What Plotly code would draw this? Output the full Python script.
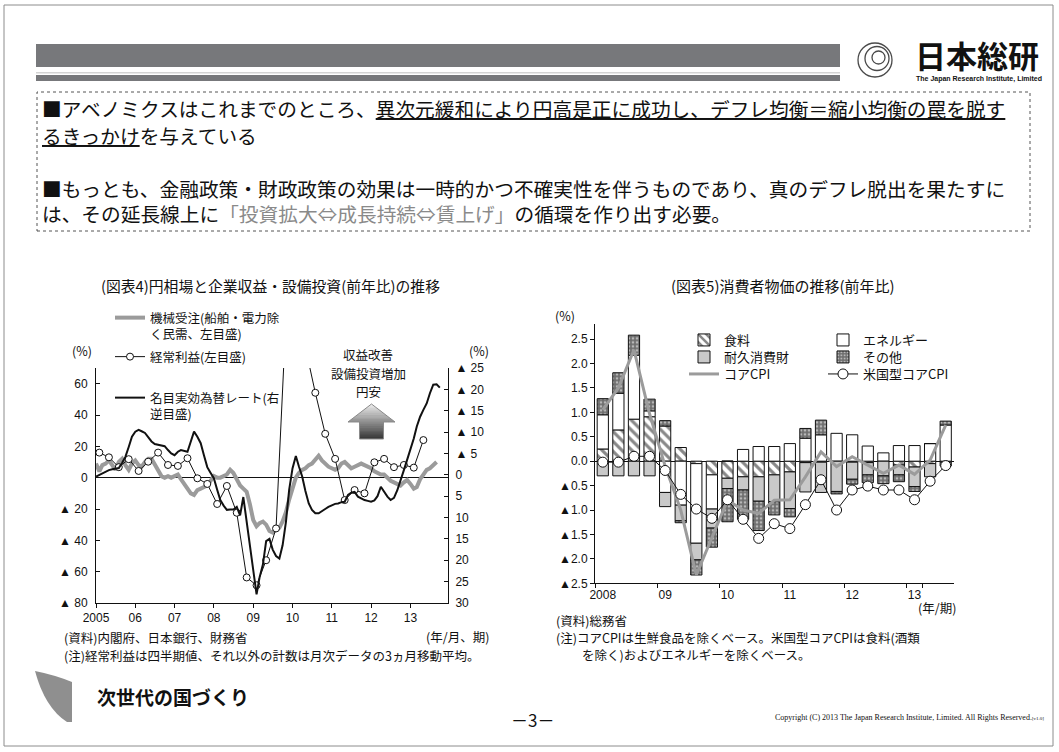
import pandas as pd
import plotly.graph_objects as go

W, H = 1059, 752


def fx(x):
    return x / W


def fy(y):
    return 1 - y / H


JP = "Noto Sans CJK JP"
SANS = "Liberation Sans, Noto Sans CJK JP"
SERIF = "Liberation Serif"

# ---------------- Figure 4: yen, corporate profits, capex (y/y, %) ----------------
# Machinery orders (private, excl. ships & electric power), 3-month moving average, from 2005-01
machine_orders = [
    9, 4, 8, 9, 11, 8, 5, 10, 12, 8,
    5, 9, 11, 8, 7, 10, 12, 12, 8, 4,
    1, 0, 1, 0, 1, 2, -1, -4, -7, -10,
    -11, -8, -7, -6, -5, -2, 1, 0, 0, 1,
    2, 5, 3, -1, -5, -7, -9, -17, -27, -31,
    -29, -28, -30, -34, -35, -33, -32, -28, -22, -14,
    -6, 0, 3, 5, 6, 8, 9, 12, 14, 11,
    9, 7, 6, 5, 6, 9, 10, 8, 6, 7,
    8, 9, 8, 7, 6, 4, 3, 2, 2, 0,
    -2, -3, -4, -5, -3, -1.5, -4, -7, -6, -1,
    2, 5, 6, 8, 10,
]
# Nominal effective exchange rate, 3-month moving average, from 2005-01 (right axis, inverted)
neer = [
    0.4, 0.0, -0.4, -0.7, -1.1, -1.3, -1.5, -1.6, -2.8, -4.2,
    -6.5, -8.9, -10.1, -10.5, -10.2, -9.8, -8.8, -7.8, -7.2, -7.0,
    -6.8, -6.7, -5.8, -5.0, -4.6, -5.4, -5.8, -5.6, -5.4, -7.8,
    -10.1, -8.9, -7.4, -4.6, -1.8, -0.5, 0.8, 3.5, 5.9, 7.2,
    8.2, 8.1, 8.1, 7.5, 9.5, 5.2, 11.0, 17.0, 23.0, 28.0,
    24.0, 21.0, 15.5, 15.0, 17.5, 19.0, 19.6, 16.5, 11.0, 3.5,
    -1.5, -4.4, -2.0, 0.4, 3.8, 6.7, 8.2, 9.0, 9.0, 8.6,
    8.0, 7.5, 7.1, 6.8, 6.7, 6.4, 6.3, 4.7, 4.2, 4.0,
    5.1, 5.5, 5.9, 6.1, 6.3, 6.0, 5.0, 2.8, 4.0, 5.1,
    5.9, 5.4, 3.6, 1.0, -1.1, -3.5, -5.8, -8.5, -11.3, -13.6,
    -15.2, -16.7, -19.1, -21.1, -21.2, -20.4,
]
# Recurring profits, quarterly, from 2005Q1
recurring_profits = [
    16, 13, 6.7, 11.8, 4.3, 10.2, 16, 8.1, 7.5, 12.4,
    -0.4, -4, -16.8, -5.3, -22.4, -63.7, -68.7, -52.7, -32.4, 101.5,
    164.4, 83.2, 54.2, 28, 12, -14.3, -7.9, -10, 9.8, 12,
    6.7, 8.1, 6.4, 24,
]

fig4_years = [f"{y}-01-01" for y in range(2005, 2014)]
fig4_year_labels = ["2005", "06", "07", "08", "09", "10", "11", "12", "13"]
fig4_left_ticks = [-80, -60, -40, -20, 0, 20, 40, 60]
fig4_left_labels = ["▲ 80", "▲ 60", "▲ 40", "▲ 20", "0", "20", "40", "60"]
fig4_right_ticks = [-25, -20, -15, -10, -5, 0, 5, 10, 15, 20, 25, 30]
fig4_right_labels = ["▲ 25", "▲ 20", "▲ 15", "▲ 10", "▲ 5", "0", "5", "10", "15", "20", "25", "30"]

months_mo = pd.date_range("2005-01-01", periods=len(machine_orders), freq="MS")
months_fx = pd.date_range("2005-01-01", periods=len(neer), freq="MS")
quarters_rp = pd.date_range("2005-02-01", periods=len(recurring_profits), freq="3MS")

# ---------------- Figure 5: consumer prices (y/y, %) ----------------
cpi_quarters = [f"{y}Q{q}" for y in range(2008, 2014) for q in range(1, 5)][:23]
food = [0.25, 0.64, 0.86, 0.91, 0.72, 0.28, -0.05, -0.28, -0.35, -0.32, -0.32, -0.28,
        -0.22, -0.03, -0.02, 0.0, -0.02, -0.03, 0.0, -0.08, -0.12, -0.05, -0.02]
energy = [0.70, 0.75, 1.31, 0.12, -0.64, -0.90, -1.63, -0.70, 0.0, 0.24, 0.30, 0.30,
          0.36, 0.47, 0.54, 0.57, 0.54, 0.31, 0.17, 0.32, 0.32, 0.36, 0.74]
durables = [-0.30, -0.30, -0.30, -0.30, -0.29, -0.32, -0.34, -0.39, -0.21, -0.27, -0.50, -0.55,
            -0.75, -0.60, -0.62, -0.62, -0.35, -0.25, -0.30, -0.20, -0.40, -0.27, -0.08]
others = [0.33, 0.42, 0.41, 0.24, 0.11, -0.04, -0.31, -0.39, -0.68, -0.60, -0.60, -0.27,
          -0.17, 0.20, 0.30, -0.05, -0.10, -0.16, -0.16, -0.14, -0.10, 0.0, 0.08]
core_cpi = [1.05, 1.5, 2.28, 0.97, -0.1, -1.0, -2.33, -1.57, -0.8, -1.0, -1.07, -0.8,
            -0.79, -0.32, 0.19, -0.11, 0.09, -0.08, -0.25, -0.08, -0.27, 0.02, 0.74]
us_core_cpi = [-0.02, -0.02, 0.1, 0.1, -0.19, -0.68, -0.98, -1.17, -0.79, -1.19, -1.58, -1.28,
               -1.38, -0.89, -0.38, -1.0, -0.59, -0.51, -0.59, -0.59, -0.79, -0.41, -0.09]

fig5_year_ticks = ["2008Q1", "2009Q1", "2010Q1", "2011Q1", "2012Q1", "2013Q1"]
fig5_year_labels = ["2008", "09", "10", "11", "12", "13"]
fig5_y_ticks = [-2.5, -2.0, -1.5, -1.0, -0.5, 0.0, 0.5, 1.0, 1.5, 2.0, 2.5]
fig5_y_labels = ["▲2.5", "▲2.0", "▲1.5", "▲1.0", "▲0.5", "0.0", "0.5", "1.0", "1.5", "2.0", "2.5"]

fig = go.Figure()

# ---- Figure 4 traces ----
fig.add_trace(go.Scatter(
    x=months_mo, y=machine_orders, mode="lines", name="機械受注(船舶・電力除<br>く民需、左目盛)",
    line=dict(color="#9b9b9b", width=4), xaxis="x", yaxis="y", legend="legend"))
fig.add_trace(go.Scatter(
    x=months_fx, y=neer, mode="lines", name="名目実効為替レート(右<br>逆目盛)",
    line=dict(color="#111111", width=2), xaxis="x", yaxis="y2", legend="legend3"))
fig.add_trace(go.Scatter(
    x=quarters_rp, y=recurring_profits, mode="lines+markers", name="経常利益(左目盛)",
    line=dict(color="#111111", width=1),
    marker=dict(symbol="circle", size=7, color="white", line=dict(color="#111111", width=1)),
    xaxis="x", yaxis="y", legend="legend2"))

# ---- Figure 5 traces ----
bar_line = dict(color="#111111", width=1)
fig.add_trace(go.Bar(
    x=cpi_quarters, y=food, name="食料", width=0.72, xaxis="x2", yaxis="y3", legend="legend4",
    marker=dict(color="white", line=bar_line,
                pattern=dict(shape="\\", fgcolor="#111111", bgcolor="white", size=7, solidity=0.45))))
fig.add_trace(go.Bar(
    x=cpi_quarters, y=energy, name="エネルギー", width=0.72, xaxis="x2", yaxis="y3", legend="legend5",
    marker=dict(color="white", line=bar_line)))
fig.add_trace(go.Bar(
    x=cpi_quarters, y=durables, name="耐久消費財", width=0.72, xaxis="x2", yaxis="y3", legend="legend6",
    marker=dict(color="#c9c9c9", line=bar_line)))
fig.add_trace(go.Bar(
    x=cpi_quarters, y=others, name="その他", width=0.72, xaxis="x2", yaxis="y3", legend="legend7",
    marker=dict(color="#6f6f6f", line=bar_line,
                pattern=dict(shape=".", fgcolor="white", bgcolor="#6f6f6f", size=4, solidity=0.35))))
fig.add_trace(go.Scatter(
    x=cpi_quarters, y=core_cpi, mode="lines", name="コアCPI",
    line=dict(color="#9b9b9b", width=3), xaxis="x2", yaxis="y3", legend="legend8"))
fig.add_trace(go.Scatter(
    x=cpi_quarters, y=us_core_cpi, mode="lines+markers", name="米国型コアCPI",
    line=dict(color="#111111", width=1),
    marker=dict(symbol="circle", size=10, color="white", line=dict(color="#111111", width=1)),
    xaxis="x2", yaxis="y3", legend="legend9"))

tick_font = dict(family=SANS, size=12, color="#111111")
axis_common = dict(showgrid=False, showline=True, linecolor="#111111", linewidth=1,
                   tickcolor="#111111", tickwidth=1, ticklen=4, tickfont=tick_font,
                   automargin=False, fixedrange=True)

# ---------------- decorative page shapes ----------------
shapes = []


def rect(x0, y0, x1, y1, fill=None, line_color=None, width=0, dash=None):
    s = dict(type="rect", xref="paper", yref="paper",
             x0=fx(x0), x1=fx(x1), y0=fy(y1), y1=fy(y0), layer="above",
             line=dict(width=width, color=line_color or "rgba(0,0,0,0)"))
    if dash:
        s["line"]["dash"] = dash
    s["fillcolor"] = fill or "rgba(0,0,0,0)"
    return s


def path(points, fill, line_color="rgba(0,0,0,0)", width=0, closed=True):
    d = "M " + " L ".join(f"{fx(x):.5f},{fy(y):.5f}" for x, y in points)
    if closed:
        d += " Z"
    return dict(type="path", xref="paper", yref="paper", path=d, fillcolor=fill,
                line=dict(color=line_color, width=width), layer="above")


# page frame
shapes.append(rect(4, 5, 1053, 746, line_color="#8c8c8c", width=1))
# header bars
shapes.append(rect(36, 44, 840, 67, fill="#77787b"))
shapes.append(rect(36, 72, 840, 73.5, fill="#d4d4d4"))
shapes.append(rect(36, 75, 840, 81, fill="#77787b"))
# message box
shapes.append(rect(37, 92, 1030, 231, line_color="#555555", width=1, dash="dot"))
# logo mark
for cx, cy, r in [(875, 60, 17), (877, 58.5, 12), (878.5, 57.5, 6.5)]:
    shapes.append(dict(type="circle", xref="paper", yref="paper",
                       x0=fx(cx - r), x1=fx(cx + r), y0=fy(cy + r), y1=fy(cy - r),
                       line=dict(color="#4a4a4a", width=1.3), layer="above"))

# gradient up-arrow
apex_x, apex_y, base_y, head_l, head_r = 371.5, 404, 422, 348, 395
shaft_l, shaft_r, shaft_b = 359.5, 383.5, 439
n_bands = 16
band_h = (shaft_b - apex_y) / n_bands


def half_width(y):
    if y <= base_y:
        return (y - apex_y) / (base_y - apex_y) * (head_r - head_l) / 2
    return (shaft_r - shaft_l) / 2


for i in range(n_bands):
    ya = apex_y + i * band_h
    yb = min(ya + band_h + 0.6, shaft_b)
    t = i / (n_bands - 1)
    g = int(232 - t * (232 - 58))
    col = f"rgb({g},{g},{g})"
    if yb <= base_y:
        pts = [(apex_x - half_width(ya), ya), (apex_x + half_width(ya), ya),
               (apex_x + half_width(yb), yb), (apex_x - half_width(yb), yb)]
    elif ya >= base_y:
        pts = [(shaft_l, ya), (shaft_r, ya), (shaft_r, yb), (shaft_l, yb)]
    else:
        pts = [(apex_x - half_width(ya), ya), (apex_x + half_width(ya), ya),
               (head_r, base_y), (shaft_r, base_y), (shaft_r, yb), (shaft_l, yb),
               (shaft_l, base_y), (head_l, base_y)]
    shapes.append(path(pts, col))
shapes.append(path([(apex_x, apex_y), (head_r, base_y), (shaft_r, base_y), (shaft_r, shaft_b),
                    (shaft_l, shaft_b), (shaft_l, base_y), (head_l, base_y)],
                   "rgba(0,0,0,0)", line_color="#8a8a8a", width=1))

# footer page-curl mark
curl = "M {},{} Q {},{} {},{} L {},{} L {},{} Q {},{} {},{} Z".format(
    fx(35), fy(671), fx(55), fy(675), fx(72), fy(682), fx(72), fy(722), fx(67), fy(722),
    fx(45), fy(708), fx(35), fy(671))
shapes.append(dict(type="path", xref="paper", yref="paper", path=curl,
                   fillcolor="#8f8f8f", line=dict(width=0), layer="above"))

# ---------------- text ----------------
annotations = []


def text(x, y, s, size=12, anchor="left", family=JP, color="#111111", valign="middle"):
    annotations.append(dict(x=fx(x), y=fy(y), xref="paper", yref="paper", text=s,
                            showarrow=False, xanchor=anchor, yanchor=valign,
                            font=dict(family=family, size=size, color=color)))


body = 19.7
text(40, 109, "■アベノミクスはこれまでのところ、<u>異次元緩和により円高是正に成功し、デフレ均衡＝縮小均衡の罠を脱す</u>", body)
text(40, 135, "<u>るきっかけ</u>を与えている", body)
text(40, 188, "■もっとも、金融政策・財政政策の効果は一時的かつ不確実性を伴うものであり、真のデフレ脱出を果たすに", body)
text(40, 214, "は、その延長線上に<span style='color:#8a8a8a'>「投資拡大⇔成長持続⇔賃上げ」</span>の循環を作り出す必要。", body)

# logo words
text(1041, 55, "<b>日本総研</b>", 31, anchor="right")
text(1044, 79, "<b>The Japan Research Institute, Limited</b>", 7, anchor="right", family="Liberation Sans")

# figure 4 texts
text(270, 286, "(図表4)円相場と企業収益・設備投資(前年比)の推移", 14.8, anchor="center")
text(82, 350, "(%)", 12.5, anchor="center")
text(479, 350, "(%)", 12.5, anchor="center")
text(368, 355, "収益改善", 12.5, anchor="center")
text(368, 373, "設備投資増加", 12.5, anchor="center")
text(368, 391, "円安", 12.5, anchor="center")
text(491, 636, "(年/月、期)", 12.5, anchor="right")
text(62, 637, "(資料)内閣府、日本銀行、財務省", 12.5)
text(62, 655, "(注)経常利益は四半期値、それ以外の計数は月次データの3ヵ月移動平均。", 12.5)

# figure 5 texts
text(783, 286, "(図表5)消費者物価の推移(前年比)", 15, anchor="center")
text(565, 315, "(%)", 12.5, anchor="center")
text(958, 607, "(年/期)", 12.5, anchor="right")
text(554, 620, "(資料)総務省", 12.5)
text(554, 637, "(注)コアCPIは生鮮食品を除くベース。米国型コアCPIは食料(酒類", 12.5)
text(580, 654, "を除く)およびエネルギーを除くベース。", 12.5)

# footer
text(95, 696, "<b>次世代の国づくり</b>", 19)
text(532, 719, "－3－", 17, anchor="center")
text(1046, 717, "Copyright (C) 2013 The Japan Research Institute, Limited. All Rights Reserved.<span style='font-size:5px'>[v1.0]</span>",
     8, anchor="right", family=SERIF)


def legend_at(x, y, size):
    # one legend box per key, centred vertically on the given pixel row
    return dict(x=fx(x), y=fy(y), xanchor="left", yanchor="middle", bgcolor="rgba(0,0,0,0)",
                borderwidth=0, itemwidth=30, valign="top", traceorder="normal",
                itemclick=False, itemdoubleclick=False,
                font=dict(family=JP, size=size, color="#111111"))


fig.update_layout(
    width=W, height=H,
    margin=dict(l=0, r=0, t=0, b=0),
    paper_bgcolor="white", plot_bgcolor="rgba(0,0,0,0)",
    font=dict(family=JP, size=12, color="#111111"),
    barmode="relative",
    showlegend=True,
    xaxis=dict(domain=[fx(96), fx(448)], anchor="y", type="date",
               range=["2005-01-01", "2013-12-16"], tickmode="array",
               tickvals=fig4_years, ticktext=fig4_year_labels, ticks="outside",
               tickangle=0, zeroline=False, **axis_common),
    yaxis=dict(domain=[fy(603), fy(368)], anchor="x", range=[-80, 70], tickmode="array",
               tickvals=fig4_left_ticks, ticktext=fig4_left_labels, ticks="inside",
               ticklabelstandoff=5, zeroline=True, zerolinecolor="#111111", zerolinewidth=1,
               **axis_common),
    yaxis2=dict(overlaying="y", side="right", anchor="x", range=[30, -25], tickmode="array",
                tickvals=fig4_right_ticks, ticktext=fig4_right_labels, ticks="inside",
                ticklabelstandoff=4, zeroline=False, **axis_common),
    xaxis2=dict(domain=[fx(595), fx(953.5)], anchor="y3", type="category",
                categoryorder="array", categoryarray=cpi_quarters, range=[-0.5, 22.5],
                tickmode="array", tickvals=fig5_year_ticks, ticktext=fig5_year_labels,
                tickson="boundaries", ticks="outside", tickangle=0, zeroline=False,
                **axis_common),
    yaxis3=dict(domain=[fy(583.3), fy(324.4)], anchor="x2", range=[-2.5, 2.8], tickmode="array",
                tickvals=fig5_y_ticks, ticktext=fig5_y_labels, ticks="outside",
                zeroline=True, zerolinecolor="#111111", zerolinewidth=1, **axis_common),
    legend=legend_at(110, 326, 12.5),
    legend2=legend_at(110, 357, 12.5),
    legend3=legend_at(110, 406, 12.5),
    legend4=legend_at(684, 340, 13),
    legend5=legend_at(823, 340, 13),
    legend6=legend_at(684, 357, 13),
    legend7=legend_at(823, 357, 13),
    legend8=legend_at(684, 374, 13),
    legend9=legend_at(823, 374, 13),
    shapes=shapes,
    annotations=annotations,
)

fig.write_html("out.html")
